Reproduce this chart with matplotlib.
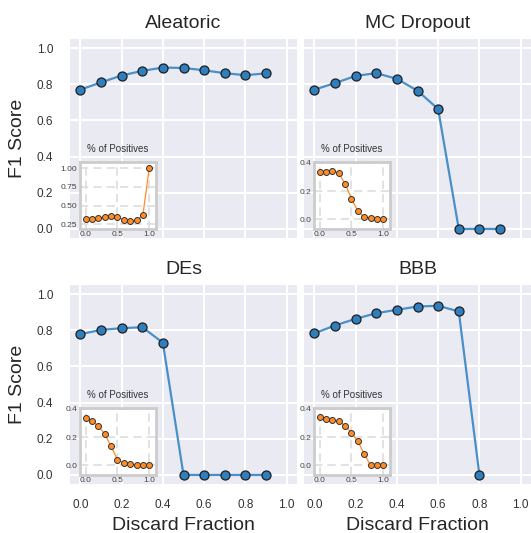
import numpy as np
import matplotlib
matplotlib.use("Agg")
import matplotlib.pyplot as plt

plt.style.use("seaborn-v0_8-darkgrid")
plt.rcParams["font.family"] = ["Liberation Sans", "DejaVu Sans"]
plt.rcParams["text.color"] = "#262626"
plt.rcParams["axes.labelcolor"] = "#262626"
plt.rcParams["xtick.color"] = "#333333"
plt.rcParams["ytick.color"] = "#333333"

# discard fractions
frac_main = [0.0, 0.1, 0.2, 0.3, 0.4, 0.5, 0.6, 0.7, 0.8, 0.9]
frac_inset = [0.0, 0.1, 0.2, 0.3, 0.4, 0.5, 0.6, 0.7, 0.8, 0.9, 1.0]

titles = ["Aleatoric", "MC Dropout", "DEs", "BBB"]

# F1 score per model
f1_aleatoric = [0.77, 0.81, 0.848, 0.874, 0.892, 0.89, 0.877, 0.861, 0.85, 0.86]
f1_mc = [0.77, 0.806, 0.846, 0.861, 0.83, 0.764, 0.663, 0.0, 0.0, 0.0]
f1_des = [0.778, 0.802, 0.811, 0.817, 0.731, 0.0, 0.0, 0.0, 0.0, 0.0]
f1_bbb = [0.783, 0.826, 0.863, 0.894, 0.913, 0.931, 0.935, 0.904, 0.0]

# % of positives per model
pos_aleatoric = [0.32, 0.32, 0.33, 0.34, 0.365, 0.35, 0.31, 0.29, 0.30, 0.37, 1.0]
pos_mc = [0.336, 0.336, 0.346, 0.329, 0.252, 0.148, 0.059, 0.016, 0.007, 0.0, 0.0]
pos_des = [0.335, 0.315, 0.279, 0.221, 0.136, 0.040, 0.017, 0.008, 0.005, 0.002, 0.0]
pos_bbb = [0.34, 0.331, 0.324, 0.312, 0.283, 0.231, 0.171, 0.083, 0.0, 0.0, 0.0]

f1_all = [f1_aleatoric, f1_mc, f1_des, f1_bbb]
pos_all = [pos_aleatoric, pos_mc, pos_des, pos_bbb]
inset_yticks = [[0.25, 0.5, 0.75, 1.0], [0.0, 0.2, 0.4], [0.0, 0.2, 0.4], [0.0, 0.2, 0.4]]
inset_ylims = [(0.19, 1.09), (-0.065, 0.41), (-0.065, 0.41), (-0.065, 0.41)]

fig = plt.figure(figsize=(5.31, 5.33), dpi=100)
W, H = 531, 533
boxes = [(70, 39), (304, 39), (70, 285), (304, 285)]
aw, ah = 227, 199

for i in range(4):
    x0, y0 = boxes[i]
    ax = fig.add_axes([x0 / W, 1 - (y0 + ah) / H, aw / W, ah / H])
    ax.set_facecolor("#eaeaf2")
    ax.grid(True, color="white", linewidth=1.5)
    f1 = f1_all[i]
    xs = frac_main[:len(f1)]
    ax.plot(xs, f1, color="#4a90c8", linewidth=1.6, zorder=3)
    ax.plot(xs, f1, linestyle="none", marker="o", markersize=6.5,
            markerfacecolor="#2f7fbf", markeredgecolor="#1e1e1e", markeredgewidth=0.9, zorder=4)
    ax.set_xlim(-0.05, 1.05)
    ax.set_ylim(-0.05, 1.05)
    ax.set_xticks([0.0, 0.2, 0.4, 0.6, 0.8, 1.0])
    ax.set_yticks([0.0, 0.2, 0.4, 0.6, 0.8, 1.0])
    ax.tick_params(axis="x", labelsize=8.5, pad=11)
    ax.tick_params(axis="y", labelsize=8.5, pad=12)
    ax.set_title(titles[i], fontsize=14, pad=8)
    if i % 2 == 0:
        ax.set_ylabel("F1 Score", fontsize=14, labelpad=8)
    else:
        ax.set_yticklabels([])
    if i >= 2:
        ax.set_xlabel("Discard Fraction", fontsize=14, labelpad=4)
    else:
        ax.set_xticklabels([])

    ins = ax.inset_axes([0.044, 0.047, 0.333, 0.337])
    ins.set_facecolor("white")
    ins.plot(frac_inset, pos_all[i], color="#ff8c24", linewidth=0.9, marker="o",
             markersize=4.3, markerfacecolor="#ff8c24", markeredgecolor="#333333",
             markeredgewidth=0.7, zorder=3)
    ins.set_xlim(-0.09, 1.1)
    ins.set_ylim(*inset_ylims[i])
    ins.set_xticks([0.0, 0.5, 1.0])
    ins.set_yticks(inset_yticks[i])
    ins.grid(True, color="#dddddd", linestyle=(0, (5, 3)), linewidth=1.2)
    for s in ins.spines.values():
        s.set_visible(True)
        s.set_color("#cccccc")
        s.set_linewidth(2)
    ins.tick_params(labelsize=6, pad=2, colors="#444444", length=0)
    ins.set_title("% of Positives", fontsize=7, pad=7, color="#333333")

fig.savefig("out.png", dpi=100)
